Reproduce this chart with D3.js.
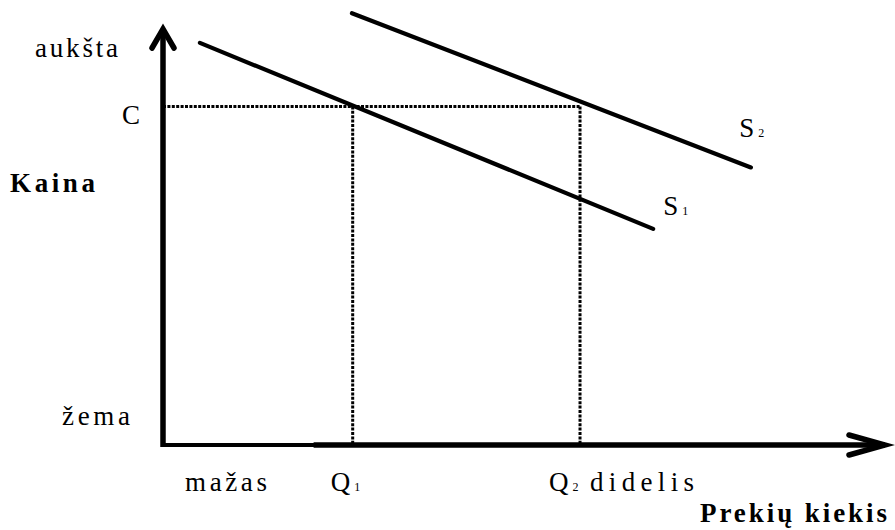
<!DOCTYPE html>
<html>
<head>
<meta charset="utf-8">
<script src="https://cdn.jsdelivr.net/npm/d3@7"></script>
<style>
  body { margin: 0; background: #fff; }
  svg text { font-family: "Liberation Serif", "Times New Roman", serif; fill: #000; }
</style>
</head>
<body>
<svg id="chart"></svg>
<script>
// values, both axes on a 0..100 scale
const s1Points = [[5.1, 96.2], [67.7, 51.7]];
const s2Points = [[26.1, 103.3], [81.2, 66.4]];
const priceC = 81;
const quantities = [26.2, 57.6];
const quantityNames = ['Q', 'Q'];
const quantitySubs = ['1', '2'];
const curveNames = ['S', 'S'];
const curveSubs = ['1', '2'];
const priceTicks = ['aukšta', 'žema'];
const amountTicks = ['mažas', 'didelis'];

class SupplyDiagram {

    constructor(_config) 
    {
        this.config = 
        {
            parentElement: _config.parentElement,
            containerWidth: _config.containerWidth || 895,
            containerHeight: _config.containerHeight || 530,
            margin: _config.margin || { top: 27, right: 8, bottom: 85, left: 163 },
            fontSize: _config.fontSize || 27
        }
        this.initVis();
    }

    initVis() 
    {
        let vis = this;

        vis.width = vis.config.containerWidth - vis.config.margin.left - vis.config.margin.right;
        vis.height = vis.config.containerHeight - vis.config.margin.top - vis.config.margin.bottom;

        vis.svg = d3.select(vis.config.parentElement)
            .attr('width', vis.config.containerWidth)
            .attr('height', vis.config.containerHeight);

        vis.xScale = d3.scaleLinear().domain([0, 100]).range([0, vis.width]);
        vis.yScale = d3.scaleLinear().domain([0, 100]).range([vis.height, 0]);

        vis.chart = vis.svg.append('g')
            .attr('transform', `translate(${vis.config.margin.left},${vis.config.margin.top})`);

        vis.renderVis();
    }

    renderVis() 
    {
        let vis = this;
        const x = vis.xScale, y = vis.yScale;
        const line = d3.line().x(d => x(d[0])).y(d => y(d[1]));

        // dotted guides: price C and the two quantities
        vis.chart.append('line')
            .attr('x1', x(0)).attr('x2', x(quantities[1]))
            .attr('y1', y(priceC)).attr('y2', y(priceC))
            .attr('stroke', '#000').attr('stroke-width', 3)
            .attr('stroke-dasharray', '3,1.4');

        vis.chart.selectAll('.guide-v')
            .data(quantities)
            .join('line')
            .attr('class', 'guide-v')
            .attr('x1', d => x(d)).attr('x2', d => x(d))
            .attr('y1', y(priceC)).attr('y2', y(0))
            .attr('stroke', '#000').attr('stroke-width', 3)
            .attr('stroke-dasharray', '3,1.4');

        // supply lines
        vis.chart.selectAll('.supply')
            .data([s1Points, s2Points])
            .join('path')
            .attr('class', 'supply')
            .attr('d', line)
            .attr('fill', 'none')
            .attr('stroke', '#000')
            .attr('stroke-width', 4.2)
            .attr('stroke-linecap', 'round');

        // axes
        vis.chart.append('line')
            .attr('x1', x(0)).attr('x2', x(0))
            .attr('y1', y(0) + 2).attr('y2', y(100) + 4)
            .attr('stroke', '#000').attr('stroke-width', 5.5);

        vis.chart.append('line')
            .attr('x1', x(0) - 2).attr('x2', x(100) - 2)
            .attr('y1', y(0)).attr('y2', y(0))
            .attr('stroke', '#000').attr('stroke-width', 4);

        vis.chart.append('line')
            .attr('x1', x(20.8)).attr('x2', x(100) - 2)
            .attr('y1', y(0)).attr('y2', y(0))
            .attr('stroke', '#000').attr('stroke-width', 5.5);

        // arrow heads
        vis.chart.append('path')
            .attr('d', `M${x(0) - 11},${y(100) + 21} L${x(0)},${y(100) + 2} L${x(0) + 11},${y(100) + 21}`)
            .attr('fill', 'none').attr('stroke', '#000').attr('stroke-width', 5.5)
            .attr('stroke-linecap', 'round').attr('stroke-linejoin', 'miter');

        vis.chart.append('path')
            .attr('d', `M${x(100) - 38},${y(0) - 10} L${x(100) - 2},${y(0)} L${x(100) - 38},${y(0) + 10}`)
            .attr('fill', 'none').attr('stroke', '#000').attr('stroke-width', 5.5)
            .attr('stroke-linecap', 'round').attr('stroke-linejoin', 'miter');

        const txt = (px, py, str, opts = {}) => {
            const t = vis.svg.append('text')
                .attr('x', px).attr('y', py)
                .style('font-size', (opts.size || vis.config.fontSize) + 'px')
                .style('font-weight', opts.bold ? 'bold' : 'normal')
                .text(str);
            if (opts.len) t.attr('textLength', opts.len).attr('lengthAdjust', 'spacing');
            return t;
        };
        const sub = (t, s) => t.append('tspan').attr('dx', 4).style('font-size', '12px').text(s);

        // price side
        txt(35, 57, priceTicks[0], { len: 83 });
        txt(62, 425, priceTicks[1], { len: 68 });
        txt(122, 124, 'C');
        txt(10, 192, 'Kaina', { bold: true, len: 85 });

        // quantity side
        txt(185, 491, amountTicks[0], { len: 82 });
        txt(590, 491, amountTicks[1], { len: 104 });
        txt(700, 522, 'Prekių kiekis', { bold: true, len: 187 });

        const qOffsets = [-22, -31];
        quantities.forEach((q, i) => {
            const t = txt(vis.config.margin.left + x(q) + qOffsets[i], 491, quantityNames[i]);
            sub(t, quantitySubs[i]);
        });

        // curve labels
        const curveLabelPos = [[69.1, 55.0], [79.6, 73.7]];
        curveLabelPos.forEach((p, i) => {
            const t = txt(vis.config.margin.left + x(p[0]), vis.config.margin.top + y(p[1]), curveNames[i]);
            sub(t, curveSubs[i]);
        });
    }
}

new SupplyDiagram({ parentElement: '#chart' });
</script>
</body>
</html>
